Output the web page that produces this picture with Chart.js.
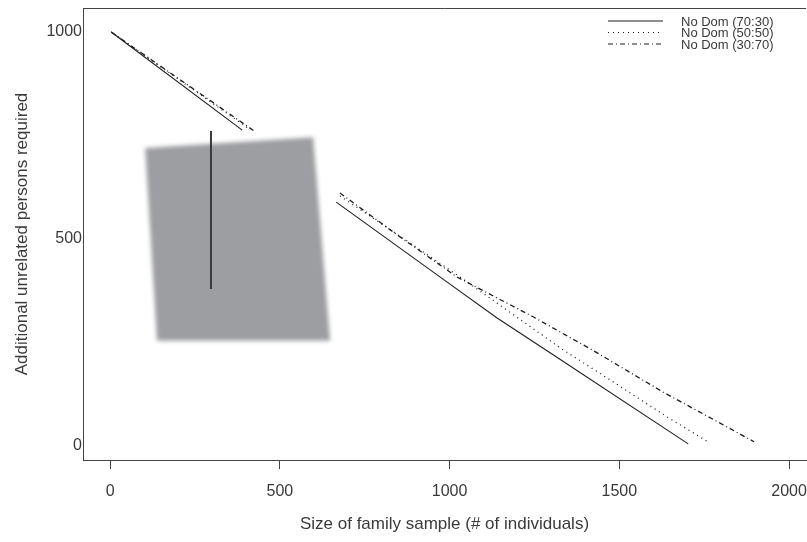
<!DOCTYPE html>
<html lang="en">
<head>
    <meta charset="UTF-8">
    <title>Additional unrelated persons required</title>
    <script src="https://cdn.jsdelivr.net/npm/chart.js"></script>
    <style>
        body { margin: 0; background: #fff; }
    </style>
</head>
<body>
    <canvas id="grafico" width="807" height="542"></canvas>

    <script>
        // Series (null = hidden section)
        const seriesLabels = ['No Dom (70:30)', 'No Dom (50:50)', 'No Dom (30:70)'];

        const xSolid = [3, 389, 530, 666, 999, 1140, 1296, 1703];
        const ySolid = [1000, 763, null, 589, 392, 309, 225, 5];

        const xDotted = [3, 409, 540, 677, 884, 1040, 1169, 1331, 1487, 1641, 1767];
        const yDotted = [1000, 766, null, 604, 490, 403, 328, 234, 152, 70, 7];

        const xDashDot = [3, 424, 550, 677, 854, 1022, 1246, 1420, 1629, 1817, 1897];
        const yDashDot = [1000, 761, null, 611, 505, 408, 312, 232, 130, 46, 10];

        const xTicks = [0, 500, 1000, 1500, 2000];
        const yTicks = [0, 500, 1000];

        const toPoints = (xs, ys) => xs.map((x, i) => ({ x: x, y: ys[i] }));

        const lineColor = '#1e1e1e';
        const axisColor = '#444';
        const textColor = '#3a3a3a';
        const fontFamily = '"Liberation Sans", Arial, sans-serif';

        // grey patch over the plot (data coordinates)
        const patch = [[103, 720], [598, 746], [648, 254], [138, 254]];
        const patchBar = [297, 761, 379];

        const extras = {
            id: 'extras',
            afterDatasetsDraw(chart) {
                const ctx = chart.ctx;
                const xs = chart.scales.x, ys = chart.scales.y;
                const area = chart.chartArea;

                // top frame line
                ctx.save();
                ctx.strokeStyle = axisColor;
                ctx.lineWidth = 1;
                ctx.beginPath();
                ctx.moveTo(area.left, area.top + 0.5);
                ctx.lineTo(area.right, area.top + 0.5);
                ctx.stroke();
                ctx.restore();

                // grey patch
                ctx.save();
                ctx.filter = 'blur(2px)';
                ctx.fillStyle = '#9d9ea2';
                ctx.beginPath();
                patch.forEach((p, i) => {
                    const px = xs.getPixelForValue(p[0]);
                    const py = ys.getPixelForValue(p[1]);
                    if (i === 0) ctx.moveTo(px, py); else ctx.lineTo(px, py);
                });
                ctx.closePath();
                ctx.fill();
                ctx.restore();

                ctx.save();
                ctx.strokeStyle = '#3a3a3c';
                ctx.lineWidth = 2;
                ctx.beginPath();
                ctx.moveTo(xs.getPixelForValue(patchBar[0]), ys.getPixelForValue(patchBar[1]));
                ctx.lineTo(xs.getPixelForValue(patchBar[0]), ys.getPixelForValue(patchBar[2]));
                ctx.stroke();
                ctx.restore();

                // legend, top right
                ctx.save();
                ctx.font = '13px ' + fontFamily;
                ctx.textBaseline = 'middle';
                ctx.fillStyle = textColor;
                chart.data.datasets.forEach((ds, i) => {
                    const y = area.top + 13 + i * 11.5;
                    ctx.strokeStyle = lineColor;
                    ctx.lineWidth = 1;
                    ctx.setLineDash(ds.borderDash || []);
                    ctx.beginPath();
                    ctx.moveTo(area.right - 198, y);
                    ctx.lineTo(area.right - 143, y);
                    ctx.stroke();
                    ctx.setLineDash([]);
                    ctx.fillText(ds.label, area.right - 125, y + 1);
                });
                ctx.restore();
            }
        };

        const ctx = document.getElementById('grafico').getContext('2d');
        new Chart(ctx, {
            type: 'line',
            data: {
                datasets: [
                    {
                        label: seriesLabels[0],
                        data: toPoints(xSolid, ySolid),
                        borderColor: lineColor,
                        borderWidth: 1.1,
                        borderDash: []
                    },
                    {
                        label: seriesLabels[1],
                        data: toPoints(xDotted, yDotted),
                        borderColor: lineColor,
                        borderWidth: 1.3,
                        borderDash: [1, 4]
                    },
                    {
                        label: seriesLabels[2],
                        data: toPoints(xDashDot, yDashDot),
                        borderColor: lineColor,
                        borderWidth: 1.3,
                        borderDash: [5, 3, 1, 3]
                    }
                ]
            },
            options: {
                responsive: false,
                animation: false,
                spanGaps: false,
                elements: {
                    point: { radius: 0 },
                    line: { tension: 0 }
                },
                layout: { padding: { top: 8, right: 1, left: 0, bottom: 0 } },
                plugins: {
                    legend: { display: false },
                    tooltip: { enabled: false }
                },
                scales: {
                    x: {
                        type: 'linear',
                        min: -80,
                        max: 2050,
                        afterBuildTicks: scale => { scale.ticks = xTicks.map(v => ({ value: v })); },
                        afterFit: scale => {
                            scale.height = 82;
                            scale.paddingLeft = 0;
                            scale.paddingRight = 0;
                        },
                        border: { display: true, color: axisColor, width: 1 },
                        grid: { drawOnChartArea: false, drawTicks: true, tickLength: 9, color: axisColor },
                        ticks: {
                            color: textColor,
                            padding: 13,
                            maxRotation: 0,
                            autoSkip: false,
                            callback: v => String(v),
                            font: { family: fontFamily, size: 16 }
                        },
                        title: {
                            display: true,
                            text: 'Size of family sample (# of individuals)',
                            color: textColor,
                            font: { family: fontFamily, size: 17 },
                            padding: { top: 0, bottom: 7 }
                        }
                    },
                    y: {
                        min: -34,
                        max: 1058,
                        afterBuildTicks: scale => { scale.ticks = yTicks.map(v => ({ value: v })); },
                        afterFit: scale => {
                            scale.width = 83;
                            scale.paddingTop = 0;
                            scale.paddingBottom = 0;
                        },
                        border: { display: true, color: axisColor, width: 1 },
                        grid: { display: false, drawTicks: false },
                        ticks: {
                            color: textColor,
                            padding: 1,
                            callback: v => String(v),
                            font: { family: fontFamily, size: 16 }
                        },
                        title: {
                            display: true,
                            text: 'Additional unrelated persons required',
                            color: textColor,
                            font: { family: fontFamily, size: 17 },
                            padding: { top: 12, bottom: 0 }
                        }
                    }
                }
            },
            plugins: [extras]
        });
    </script>
</body>
</html>
